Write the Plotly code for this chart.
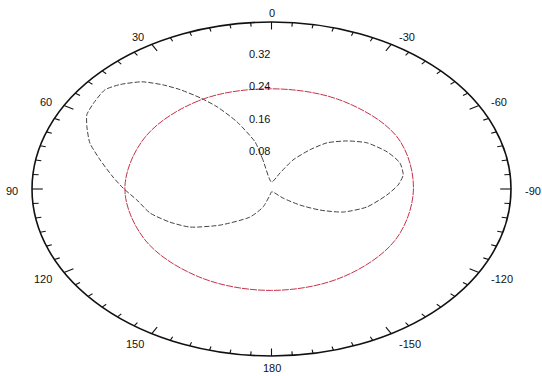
import numpy as np
import plotly.graph_objects as go

# Outer radius of the polar frame (radial units)
R_MAX = 0.41

# Angular tick labels, degrees measured counter-clockwise from the top
angle_ticks = [0, 30, 60, 90, 120, 150, 180, -150, -120, -90, -60, -30]
# Radial tick labels
radial_ticks = [0.08, 0.16, 0.24, 0.32]

# Measured pattern (black): angle in degrees, radius
pattern_theta = [0, 11.6, 13.7, 19.7, 24.8, 28.6, 32.7, 36.0, 40.1, 45.4, 49.5,
                 54.7, 60.0, 64.2, 70.0, 76.3, 83.8, 89.5, 96.7, 105.9, 115.1,
                 123.8, 135.2, 151.9, 161.8, 170.0, 180.0, 200.0, 221.6, 231.1,
                 238.1, 245.2, 254.8, 265.7, 272.6, 278.7, 286.2, 294.7, 304.7,
                 312.4, 320.0, 325.6, 332.7, 339.7, 360.0]
pattern_r = [0.017, 0.073, 0.119, 0.175, 0.2225, 0.255, 0.290, 0.316, 0.344, 0.365, 0.375,
             0.371, 0.365, 0.351, 0.331, 0.302, 0.273, 0.254, 0.232, 0.216, 0.192,
             0.168, 0.125, 0.078, 0.047, 0.015, 0.007, 0.008, 0.030, 0.063,
             0.098, 0.135, 0.169, 0.198, 0.217, 0.228, 0.229, 0.218, 0.199,
             0.175, 0.148, 0.117, 0.080, 0.042, 0.017]

# Reference pattern (red)
ref_theta = [0, 30, 60, 90, 120, 150, 180, 210, 240, 270, 300, 330, 360]
ref_r = [0.246, 0.250, 0.251, 0.251, 0.250, 0.249, 0.249, 0.248, 0.246, 0.243,
         0.250, 0.248, 0.246]

# Page geometry: frame centre and semi-axes in pixels
W, H = 542, 376
CX, CY = 271.5, 189.0
SEMI_X, SEMI_Y = 239.5, 167.0


def to_xy(theta_deg, r):
    t = np.radians(np.asarray(theta_deg, dtype=float))
    r = np.asarray(r, dtype=float)
    return -r * np.sin(t), r * np.cos(t)


fig = go.Figure()

# Frame: ellipse outline
fig.add_shape(type="circle", xref="x", yref="y",
              x0=-R_MAX, x1=R_MAX, y0=-R_MAX, y1=R_MAX,
              line=dict(color="#111111", width=1.6), layer="above")

# Angular ticks every 5 degrees, longer every 30 degrees
tx, ty = [], []
for deg in range(0, 360, 5):
    inner = R_MAX * (1 - (0.045 if deg % 30 == 0 else 0.024))
    xo, yo = to_xy(deg, R_MAX)
    xi, yi = to_xy(deg, inner)
    tx += [float(xo), float(xi), None]
    ty += [float(yo), float(yi), None]
fig.add_trace(go.Scatter(x=tx, y=ty, mode="lines", hoverinfo="skip",
                         line=dict(color="#111111", width=1.1), showlegend=False))

# Data curves
rx, ry = to_xy(ref_theta, ref_r)
fig.add_trace(go.Scatter(x=rx, y=ry, mode="lines", name="reference",
                         line=dict(color="#c8324a", width=1, shape="spline",
                                   smoothing=1.0, dash="7px,1px"),
                         showlegend=False))

px, py = to_xy(pattern_theta, pattern_r)
fig.add_trace(go.Scatter(x=px, y=py, mode="lines", name="pattern",
                         line=dict(color="#444444", width=1, shape="spline",
                                   smoothing=0.6, dash="5px,2px"),
                         showlegend=False))

font = dict(family="Liberation Sans, Arial, sans-serif", size=11, color="#111111")
annotations = []
for a in angle_ticks:
    s = -np.sin(np.radians(a))
    c = np.cos(np.radians(a))
    if abs(s) < 0.01:
        anchor = "center"
    elif s < 0:
        anchor = "right"
    else:
        anchor = "left"
    annotations.append(dict(x=1.05 * R_MAX * s, y=1.063 * R_MAX * c,
                            xref="x", yref="y", text=str(a), showarrow=False,
                            xanchor=anchor, yanchor="middle", yshift=-1.5,
                            font=font))
for v in radial_ticks:
    annotations.append(dict(x=0, y=v, xref="x", yref="y", text=f"{v:.2f}",
                            showarrow=False, xanchor="right", yanchor="middle",
                            yshift=5, font=font))

# Axes span the whole page so labels outside the frame stay visible
kx = R_MAX / SEMI_X
ky = R_MAX / SEMI_Y
fig.update_layout(
    width=W, height=H,
    margin=dict(l=0, r=0, t=0, b=0),
    paper_bgcolor="white", plot_bgcolor="white",
    xaxis=dict(range=[-CX * kx, (W - CX) * kx], visible=False, fixedrange=True),
    yaxis=dict(range=[-(H - CY) * ky, CY * ky], visible=False, fixedrange=True),
    annotations=annotations,
    showlegend=False,
)

fig.write_html("out.html")
